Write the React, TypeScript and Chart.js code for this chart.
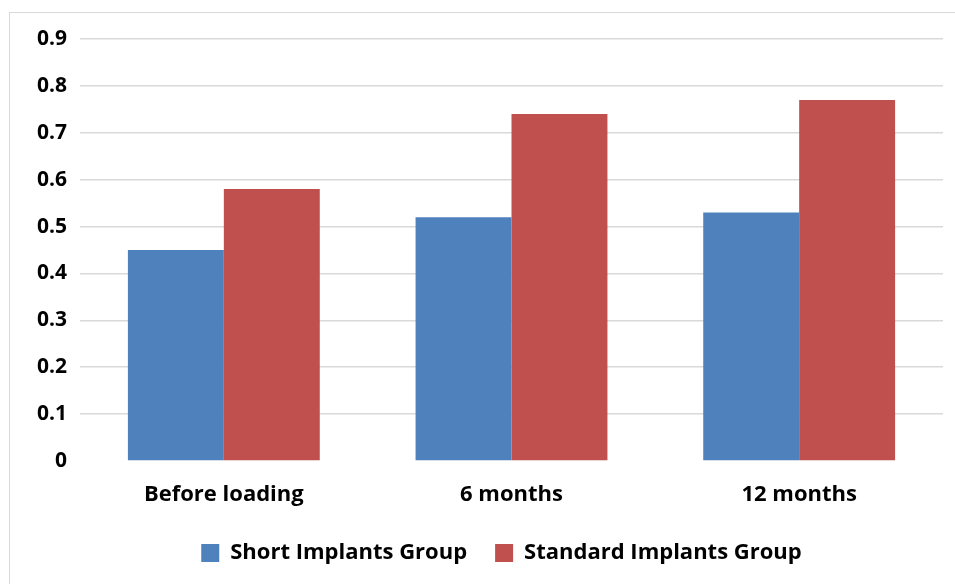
import React, { useEffect, useRef } from "react";
import { Chart, registerables } from "chart.js";

Chart.register(...registerables);

const categories = ["Before loading", "6 months", "12 months"];
const shortImplants = [0.45, 0.52, 0.53];
const standardImplants = [0.58, 0.74, 0.77];
const seriesNames = ["Short Implants Group", "Standard Implants Group"];

const FONT = "'Open Sans', sans-serif";

const shiftLegend = {
  id: "shiftLegend",
  afterLayout(chart: any) {
    const l = chart.legend;
    if (l) {
      l.left += 30;
      l.right += 30;
    }
  },
};

export default function App() {
  const ref = useRef<HTMLCanvasElement | null>(null);

  useEffect(() => {
    if (!ref.current) return;
    const chart = new Chart(ref.current, {
      type: "bar",
      data: {
        labels: categories,
        datasets: [
          {
            label: seriesNames[0],
            data: shortImplants,
            backgroundColor: "#4f81bd",
            borderWidth: 0,
            categoryPercentage: 0.667,
            barPercentage: 1,
          },
          {
            label: seriesNames[1],
            data: standardImplants,
            backgroundColor: "#c0504d",
            borderWidth: 0,
            categoryPercentage: 0.667,
            barPercentage: 1,
          },
        ],
      },
      plugins: [shiftLegend],
      options: {
        responsive: false,
        animation: false,
        layout: { padding: { left: 0, right: 12, top: 39, bottom: 10 } },
        plugins: {
          tooltip: { enabled: false },
          legend: {
            position: "bottom",
            labels: {
              boxWidth: 18,
              boxHeight: 18,
              padding: 28,
              color: "#000",
              font: { family: FONT, size: 22, weight: "bold" },
            },
          },
        },
        scales: {
          x: {
            afterFit: (s: any) => {
              s.height = 53;
            },
            grid: { display: false, drawTicks: false },
            border: { display: false },
            ticks: {
              color: "#000",
              padding: 21,
              font: { family: FONT, size: 22, weight: "bold" },
            },
          },
          y: {
            min: 0,
            max: 0.9,
            afterFit: (s: any) => {
              s.width = 80;
            },
            grid: {
              drawTicks: false,
              color: (ctx: any) => (ctx.tick && ctx.tick.value === 0 ? "rgba(0,0,0,0)" : "#d9d9d9"),
              lineWidth: 1.5,
            },
            border: { display: false },
            ticks: {
              stepSize: 0.1,
              padding: 13,
              color: "#000",
              font: { family: FONT, size: 21, weight: "bold" },
              callback: (v: any) => {
                const n = Math.round(Number(v) * 10) / 10;
                return n === 0 ? "0" : n.toFixed(1);
              },
            },
          },
        },
      },
    });
    return () => chart.destroy();
  }, []);

  return (
    <div style={{ position: "absolute", left: 0, top: 0, width: 955, height: 584, overflow: "hidden", background: "#fff" }}>
      <div
        style={{
          position: "absolute",
          left: 9,
          top: 12,
          width: 1000,
          height: 1000,
          borderTop: "1px solid #d9d9d9",
          borderLeft: "1px solid #d9d9d9",
        }}
      />
      <canvas ref={ref} width={955} height={584} style={{ position: "absolute", left: 0, top: 0 }} />
    </div>
  );
}
